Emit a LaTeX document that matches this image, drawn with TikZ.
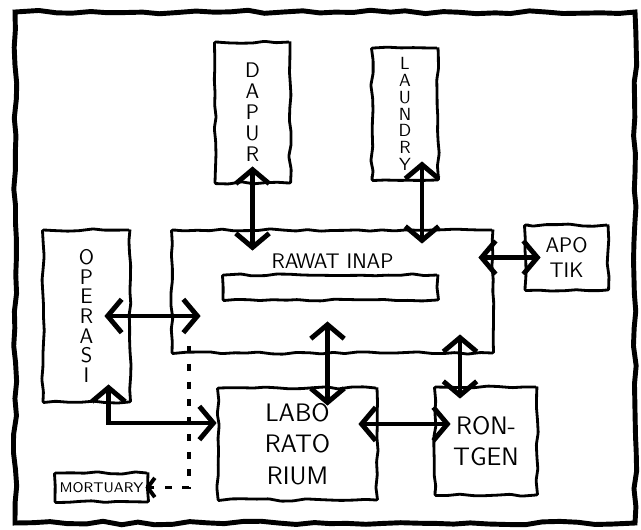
\documentclass[tikz,border=0pt]{standalone}
\usepackage{tikz}
\usetikzlibrary{arrows.meta, positioning, calc, decorations.pathmorphing}

\tikzset{
	room/.style={draw, line width=1.6pt, rounded corners=0.6pt, decorate,
		decoration={random steps, segment length=7pt, amplitude=0.7pt},
		font=\sffamily, align=center, inner sep=0pt},
	biarrow/.style={{Straight Barb[length=8pt,width=19pt]}-{Straight Barb[length=8pt,width=19pt]}, line width=2.8pt},
	mortline/.style={line width=2.2pt, dash pattern=on 4pt off 6pt, -{Straight Barb[length=4pt,width=11pt]}},
}

\begin{document}
\pgfmathsetseed{7}
\begin{tikzpicture}[x=0.02cm, y=-0.02cm]
				\useasboundingbox (0,0) rectangle (641,529);
				\draw[line width=2.8pt, decorate, decoration={random steps, segment length=10pt, amplitude=1pt}] (15,12) rectangle (635,523);

				\node[room, minimum width=1.5cm, minimum height=2.82cm, font=\sffamily\fontsize{12}{12}\selectfont] (dapur) at (252.5,112.5) {D\\A\\P\\U\\R};
				\node[room, minimum width=1.32cm, minimum height=2.64cm, font=\sffamily\fontsize{10}{9.6}\selectfont] (laundry) at (405,114) {L\\A\\U\\N\\D\\R\\Y};
				\node[room, minimum width=6.42cm, minimum height=2.46cm,
					label={[anchor=north, yshift=-0.38cm, font=\sffamily\large]north:RAWAT INAP}] (inap) at (332.5,291.5) {};
				\node[room, minimum width=4.3cm, minimum height=0.5cm] (bar) at (330.5,287.5) {};
				\node[room, minimum width=1.66cm, minimum height=1.3cm, font=\sffamily\large] (apotik) at (566.5,257.5) {APO\\TIK};
				\node[room, minimum width=1.74cm, minimum height=3.44cm, font=\sffamily\fontsize{12}{11.2}\selectfont] (operasi) at (86.5,316) {O\\P\\E\\R\\A\\S\\I};
				\node[room, minimum width=3.18cm, minimum height=2.24cm, font=\sffamily\Large] (lab) at (297.5,444) {LABO\\RATO\\RIUM};
				\node[room, minimum width=2.04cm, minimum height=2.16cm, font=\sffamily\Large] (rontgen) at (486,441) {RON-\\TGEN};
				\node[room, minimum width=1.86cm, minimum height=0.58cm, font=\sffamily\footnotesize] (mortuary) at (101.5,487.5) {MORTUARY};

				\coordinate (lautop) at ($(laundry.south)+(17,0)$);
				\coordinate (labtop) at ($(lab.north)+(30,0)$);
				\coordinate (rontop) at ($(rontgen.north)+(-26,0)$);

				% service rooms to rawat inap
				\draw[biarrow, shorten <=-0.36cm, shorten >=-0.44cm] (dapur.south) -- (dapur.south |- inap.north);
				\draw[biarrow, shorten <=-0.4cm, shorten >=-0.3cm] (lautop) -- (lautop |- inap.north);
				\draw[biarrow, shorten <=-0.34cm, shorten >=-0.32cm] (apotik.west) -- (apotik.west -| inap.east);
				\draw[biarrow, shorten <=-0.54cm, shorten >=-0.6cm] (operasi.east) -- (operasi.east -| inap.west);
				\draw[biarrow, shorten <=-0.38cm, shorten >=-0.66cm] (labtop) -- (labtop |- inap.south);
				\draw[biarrow, shorten <=-0.26cm, shorten >=-0.4cm] (rontop) -- (rontop |- inap.south);
				% lower rooms
				\draw[biarrow, shorten <=-0.4cm, shorten >=-0.34cm] ($(lab.east)+(0,-20)$) -- ($(rontgen.west)+(0,-17)$);
				\draw[biarrow, shorten <=-0.38cm] ($(operasi.south)+(22,0)$) |- ($(lab.west)+(0,-21)$);
				\draw[mortline, shorten >=-0.08cm] ($(inap.south west)+(18,-8)$) |- (mortuary.east);
			\end{tikzpicture}
\end{document}
